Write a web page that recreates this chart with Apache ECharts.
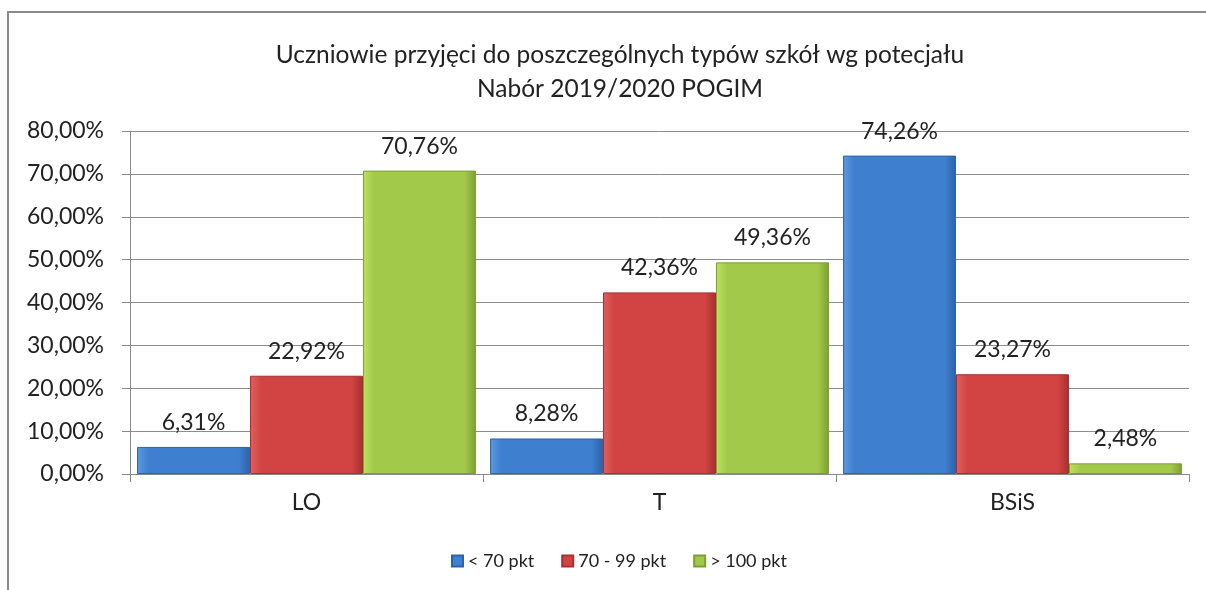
<!DOCTYPE html>
<html>
<head>
<meta charset="utf-8">
<script src="https://cdn.jsdelivr.net/npm/echarts@6/dist/echarts.min.js"></script>
<style>
  html, body { margin: 0; padding: 0; background: #fff; }
  #wykres { width: 1206px; height: 590px; }
</style>
</head>
<body>
<div id="wykres"></div>
<script>
// dane z wykresu (procenty)
var typySzkol = ['LO', 'T', 'BSiS'];
var ponizej70 = [6.31, 8.28, 74.26];
var od70do99 = [22.92, 42.36, 23.27];
var powyzej100 = [70.76, 49.36, 2.48];
var nazwySerii = ['< 70 pkt', '70 - 99 pkt', '> 100 pkt'];

var czcionka = 'Lato, "Open Sans", sans-serif';

// gradient imitujacy wypukle slupki z Excela
function kolorSlupka(jasny, sredni, ciemny) {
    return new echarts.graphic.LinearGradient(0, 0, 1, 0, [
        { offset: 0, color: jasny },
        { offset: 0.1, color: sredni },
        { offset: 0.9, color: sredni },
        { offset: 1, color: ciemny }
    ]);
}

function formatProcent(v) {
    return v.toFixed(2).replace('.', ',') + '%';
}

function seria(nazwa, dane, jasny, sredni, ciemny) {
    return {
        name: nazwa,
        type: 'bar',
        data: dane,
        barGap: '0%',
        barCategoryGap: '4%',
        itemStyle: {
            color: kolorSlupka(jasny, sredni, ciemny),
            borderColor: ciemny,
            borderWidth: 1
        },
        label: {
            show: true,
            position: 'top',
            distance: 13,
            fontFamily: czcionka,
            fontSize: 23,
            color: '#222',
            formatter: function(p) { return formatProcent(p.value); }
        }
    };
}

var wykres = echarts.init(document.getElementById('wykres'));
wykres.setOption({
    backgroundColor: '#fff',
    animation: false,
    color: ['#3f7fcf', '#d24444', '#a3c94a'],
    title: {
        text: 'Uczniowie przyjęci do poszczególnych typów szkół wg potecjału\nNabór 2019/2020 POGIM',
        left: 615,
        top: 33,
        textAlign: 'center',
        textStyle: {
            fontFamily: czcionka,
            fontSize: 24.5,
            fontWeight: 'normal',
            color: '#222',
            lineHeight: 34
        }
    },
    legend: {
        bottom: 15,
        left: 446,
        itemWidth: 11,
        itemHeight: 11,
        itemGap: 27,
        icon: 'rect',
        textStyle: { fontFamily: czcionka, fontSize: 18, color: '#222' },
        data: nazwySerii
    },
    grid: {
        left: 130,
        right: 17,
        top: 131,
        bottom: 116
    },
    xAxis: {
        type: 'category',
        data: typySzkol,
        axisLine: { lineStyle: { color: '#888' } },
        axisTick: { show: true, length: 8, lineStyle: { color: '#888' } },
        axisLabel: {
            fontFamily: czcionka,
            fontSize: 23,
            color: '#222',
            margin: 17
        }
    },
    yAxis: {
        type: 'value',
        min: 0,
        max: 80,
        interval: 10,
        axisLine: { show: true, lineStyle: { color: '#888' } },
        axisTick: { show: true, length: 8, lineStyle: { color: '#888' } },
        splitLine: { lineStyle: { color: '#8c8c8c' } },
        axisLabel: {
            fontFamily: czcionka,
            fontSize: 23,
            color: '#222',
            margin: 26,
            formatter: function(v) { return formatProcent(v); }
        }
    },
    graphic: [{
        type: 'rect',
        shape: { x: 8, y: 12, width: 1230, height: 620 },
        style: { fill: 'none', stroke: '#8a8a8a', lineWidth: 2 },
        silent: true,
        z: -1
    }],
    series: [
        seria(nazwySerii[0], ponizej70, '#5f9ae0', '#3f7fcf', '#2d62a6'),
        seria(nazwySerii[1], od70do99, '#e06060', '#d24444', '#a53030'),
        seria(nazwySerii[2], powyzej100, '#bde05e', '#a3c94a', '#7d9f32')
    ]
});
</script>
</body>
</html>
